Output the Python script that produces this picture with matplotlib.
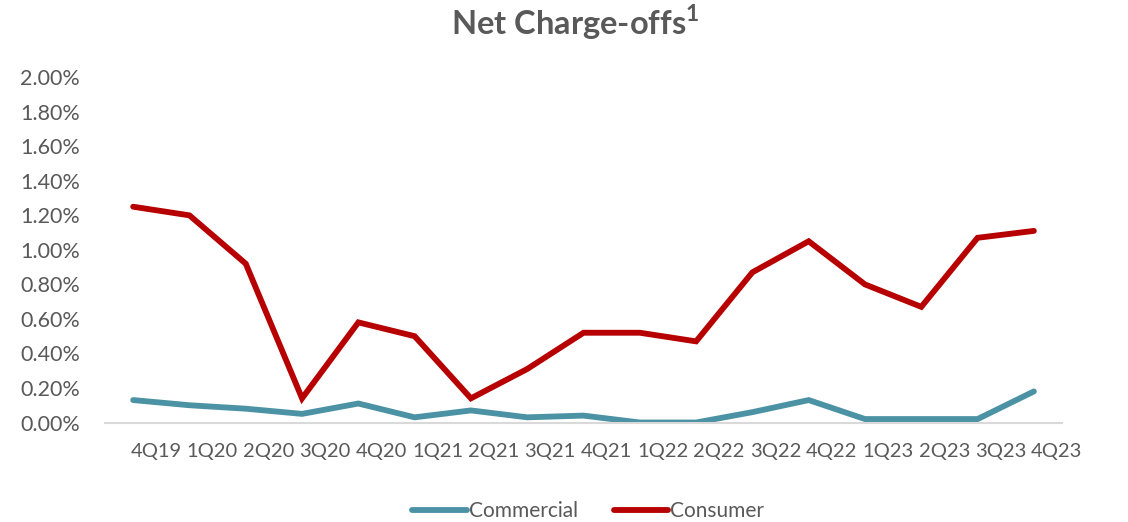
import matplotlib
matplotlib.use("Agg")
import matplotlib.pyplot as plt
import matplotlib.transforms as mtransforms
from matplotlib.ticker import FuncFormatter, MultipleLocator

quarters = ["4Q19", "1Q20", "2Q20", "3Q20", "4Q20", "1Q21", "2Q21", "3Q21", "4Q21",
            "1Q22", "2Q22", "3Q22", "4Q22", "1Q23", "2Q23", "3Q23", "4Q23"]
commercial = [0.13, 0.10, 0.08, 0.05, 0.11, 0.03, 0.07, 0.03, 0.04,
              0.00, 0.00, 0.06, 0.13, 0.02, 0.02, 0.02, 0.18]
consumer = [1.25, 1.20, 0.92, 0.14, 0.58, 0.50, 0.14, 0.31, 0.52,
            0.52, 0.47, 0.87, 1.05, 0.80, 0.67, 1.07, 1.11]

text_color = "#595959"
plt.rcParams["font.family"] = ["Lato", "DejaVu Sans"]

fig = plt.figure(figsize=(11.28, 5.22), dpi=100)
ax = fig.add_axes([0.0931, 0.1906, 0.8484, 0.6614])

x = list(range(len(quarters)))
ax.plot(x, commercial, color="#4A92A4", lw=4.2, solid_capstyle="round",
        solid_joinstyle="miter", label="Commercial")
ax.plot(x, consumer, color="#B70000", lw=4.2, solid_capstyle="round",
        solid_joinstyle="miter", label="Consumer")

ax.set_xlim(-0.5, len(quarters) - 0.5)
ax.set_ylim(0, 2.0)
ax.yaxis.set_major_locator(MultipleLocator(0.2))
ax.yaxis.set_major_formatter(FuncFormatter(lambda v, p: f"{v:.2f}%"))
ax.set_xticks(x)
ax.set_xticklabels(quarters)

for side in ["top", "right", "left"]:
    ax.spines[side].set_visible(False)
ax.spines["bottom"].set_color("#D9D9D9")
ax.spines["bottom"].set_linewidth(1.5)
ax.tick_params(axis="both", length=0, labelcolor=text_color)
ax.tick_params(axis="y", pad=18, labelsize=15.5)
ax.tick_params(axis="x", pad=15, labelsize=14.5)

# category labels sit slightly right of their data points
shift = mtransforms.ScaledTranslation(23 / 100, 0, fig.dpi_scale_trans)
for lbl in ax.get_xticklabels():
    lbl.set_transform(lbl.get_transform() + shift)

fig.text(0.51, 0.957, r"Net Charge-offs$^{\mathregular{1}}$", ha="center", va="center",
         fontsize=23.5, fontweight="bold", color=text_color)

leg = ax.legend(loc="center", bbox_to_anchor=(0.505, -0.2565), ncol=2, frameon=False,
                fontsize=15, handlelength=2.6, handletextpad=0.12, columnspacing=1.7)
for t in leg.get_texts():
    t.set_color(text_color)

fig.savefig("out.png", dpi=100)
